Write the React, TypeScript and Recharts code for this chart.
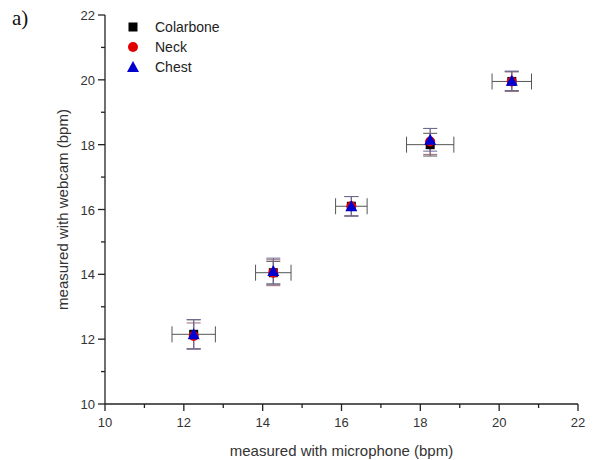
import React from "react";
import { ScatterChart, Scatter, XAxis, YAxis, ErrorBar } from "recharts";

// microphone reading (x) and its spread, shared by all three sensor spots
const micBpm = [12.25, 14.27, 16.25, 18.25, 20.32];
const micErr = [0.55, 0.45, 0.4, 0.6, 0.5];

const colarboneBpm = [12.15, 14.05, 16.1, 18.0, 19.95];
const colarboneErr = [0.45, 0.35, 0.3, 0.35, 0.3];
const neckBpm = [12.1, 14.05, 16.1, 18.1, 19.95];
const neckErr = [0.4, 0.4, 0.3, 0.4, 0.3];
const chestBpm = [12.15, 14.1, 16.1, 18.15, 19.97];
const chestErr = [0.45, 0.4, 0.3, 0.35, 0.3];

const axisTicks = [10, 11, 12, 13, 14, 15, 16, 17, 18, 19, 20, 21, 22];

const build = (ys: number[], yErr: number[]) =>
  micBpm.map((x, i) => ({ x, y: ys[i], ex: micErr[i], ey: yErr[i] }));

const colarbone = build(colarboneBpm, colarboneErr);
const neck = build(neckBpm, neckErr);
const chest = build(chestBpm, chestErr);

const FONT = "'Liberation Sans', Arial, sans-serif";
const INK = "#222";

const XTick = (props: any) => {
  const { x, y, payload } = props;
  const major = payload.value % 2 === 0;
  return (
    <g>
      <line x1={x} x2={x} y1={y} y2={y + (major ? 7 : 4)} stroke={INK} strokeWidth={1.3} />
      {major && (
        <text x={x} y={y + 23} textAnchor="middle" fontSize={13} fill="#333" fontFamily={FONT}>
          {payload.value}
        </text>
      )}
    </g>
  );
};

const YTick = (props: any) => {
  const { x, y, payload } = props;
  const major = payload.value % 2 === 0;
  return (
    <g>
      <line x1={x - (major ? 7 : 4)} x2={x} y1={y} y2={y} stroke={INK} strokeWidth={1.3} />
      {major && (
        <text x={x - 10} y={y + 5} textAnchor="end" fontSize={13} fill="#333" fontFamily={FONT}>
          {payload.value}
        </text>
      )}
    </g>
  );
};

const Square = ({ cx, cy }: any) => (
  <rect x={cx - 4.5} y={cy - 4.5} width={9} height={9} fill="#000" />
);
const Dot = ({ cx, cy }: any) => <circle cx={cx} cy={cy} r={5} fill="#e00000" />;
const Tri = ({ cx, cy }: any) => (
  <polygon points={`${cx},${cy - 6} ${cx - 6},${cy + 5} ${cx + 6},${cy + 5}`} fill="#0000d0" />
);

const legendItems = [
  { name: "Colarbone", kind: "square" },
  { name: "Neck", kind: "circle" },
  { name: "Chest", kind: "triangle" },
];

const LegendBox = () => (
  <svg width={140} height={64} style={{ position: "absolute", left: 125, top: 17 }}>
    {legendItems.map((it, i) => {
      const cy = 10 + i * 20;
      return (
        <g key={it.name}>
          {it.kind === "square" && <Square cx={8} cy={cy} />}
          {it.kind === "circle" && <Dot cx={8} cy={cy} />}
          {it.kind === "triangle" && <Tri cx={8} cy={cy} />}
          <text x={30} y={cy + 5} fontSize={14} fill="#222" fontFamily={FONT}>
            {it.name}
          </text>
        </g>
      );
    })}
  </svg>
);

export default function App() {
  return (
    <div style={{ position: "fixed", left: 0, top: 0, width: 595, height: 460, background: "#fff" }}>
      <div
        style={{
          position: "absolute",
          left: 12,
          top: 6,
          fontFamily: "'Liberation Serif', 'Times New Roman', serif",
          fontSize: 21,
          color: "#111",
        }}
      >
        a)
      </div>
      <ScatterChart width={595} height={460} margin={{ top: 15, right: 17, bottom: 0, left: 0 }}>
        <XAxis
          type="number"
          dataKey="x"
          domain={[10, 22]}
          ticks={axisTicks}
          interval={0}
          allowDataOverflow
          height={56}
          tickSize={0}
          tickMargin={0}
          tickLine={false}
          tick={<XTick />}
          axisLine={{ stroke: INK, strokeWidth: 1.3 }}
          label={{
            value: "measured with microphone (bpm)",
            position: "insideBottom",
            offset: 4,
            style: { fontSize: 15, fill: "#333", fontFamily: FONT },
          }}
        />
        <YAxis
          type="number"
          dataKey="y"
          domain={[10, 22]}
          ticks={axisTicks}
          interval={0}
          allowDataOverflow
          width={105}
          tickSize={0}
          tickMargin={0}
          tickLine={false}
          tick={<YTick />}
          axisLine={{ stroke: INK, strokeWidth: 1.3 }}
          label={{
            content: (p: any) => {
              const vb = p.viewBox;
              const cx = vb.x + 62;
              const cy = vb.y + vb.height / 2;
              return (
                <text
                  x={cx}
                  y={cy}
                  transform={`rotate(-90 ${cx} ${cy})`}
                  textAnchor="middle"
                  dominantBaseline="central"
                  fontSize={15}
                  fill="#333"
                  fontFamily={FONT}
                >
                  measured with webcam (bpm)
                </text>
              );
            },
          }}
        />
        <Scatter name="Colarbone" data={colarbone} shape={<Square />} isAnimationActive={false}>
          <ErrorBar dataKey="ex" direction="x" width={8} stroke="#555" strokeWidth={1} />
          <ErrorBar dataKey="ey" direction="y" width={7} stroke="#555" strokeWidth={1} />
        </Scatter>
        <Scatter name="Neck" data={neck} shape={<Dot />} isAnimationActive={false}>
          <ErrorBar dataKey="ey" direction="y" width={7} stroke="#a06878" strokeWidth={1} />
        </Scatter>
        <Scatter name="Chest" data={chest} shape={<Tri />} isAnimationActive={false}>
          <ErrorBar dataKey="ey" direction="y" width={7} stroke="#6a6a98" strokeWidth={1} />
        </Scatter>
      </ScatterChart>
      <LegendBox />
    </div>
  );
}
